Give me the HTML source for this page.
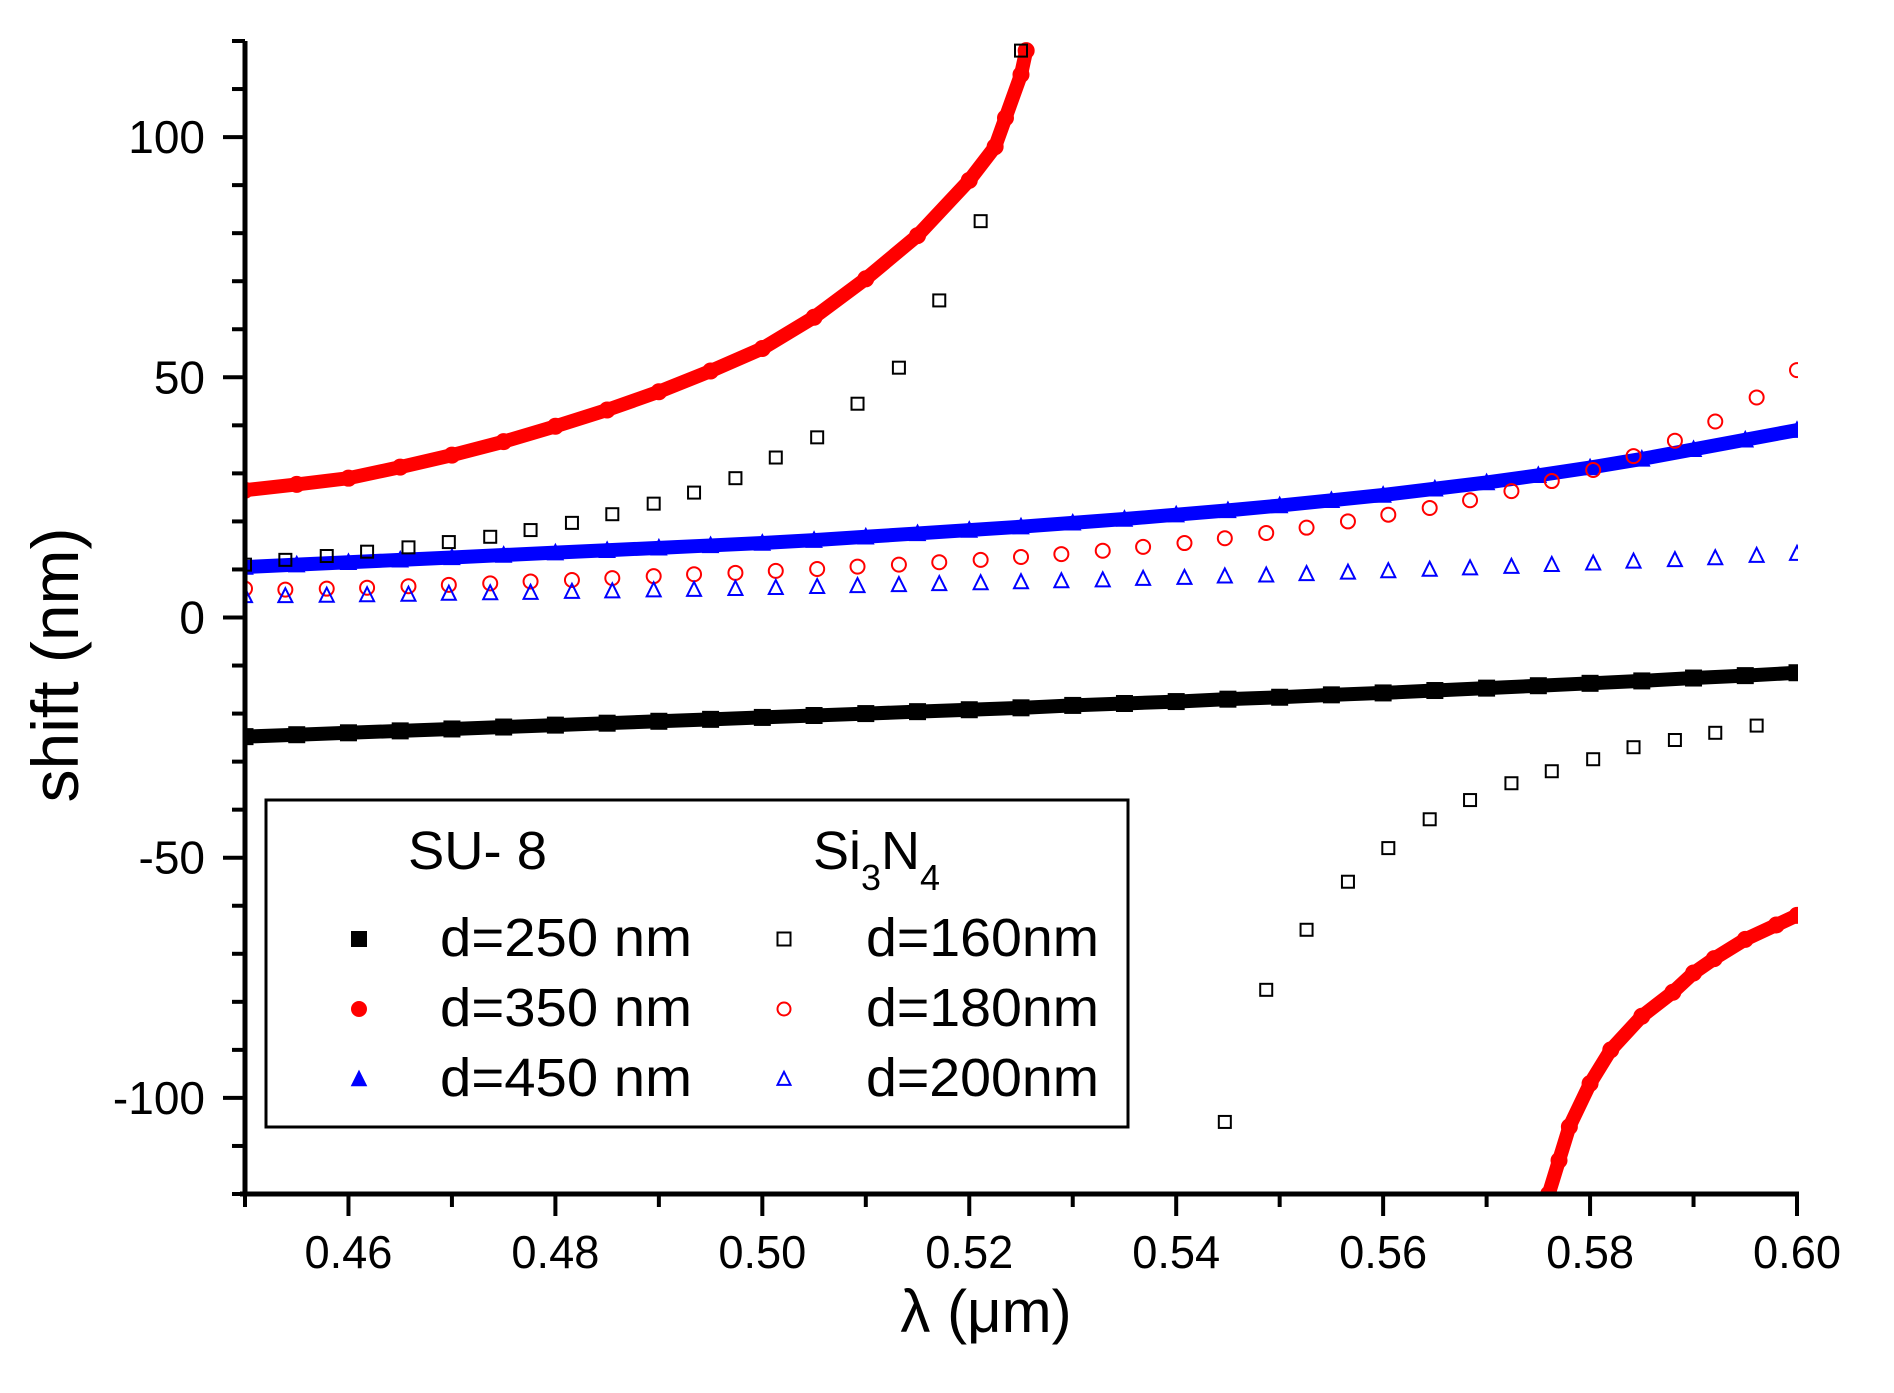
<!DOCTYPE html>
<html><head><meta charset="utf-8"><title>shift vs wavelength</title>
<style>
html,body{margin:0;padding:0;background:#fff;}
svg{display:block;font-family:"Liberation Sans",Arial,sans-serif;}
</style></head>
<body>
<svg id="chart" width="1894" height="1393" viewBox="0 0 1894 1393" xmlns="http://www.w3.org/2000/svg">
<defs><clipPath id="plotclip"><rect x="245" y="41" width="1553" height="1153"/></clipPath></defs>
<g id="ticks"></g>
<g id="series" clip-path="url(#plotclip)"></g>
<line x1="245" y1="41" x2="245" y2="1196" stroke="#000" stroke-width="5"/>
<line x1="240" y1="1194" x2="1799" y2="1194" stroke="#000" stroke-width="5"/>
<text x="55" y="665" transform="rotate(-90 55 665)" text-anchor="middle" dominant-baseline="central" font-size="66">shift (nm)</text>
<text x="986" y="1332" text-anchor="middle" font-size="60">λ (μm)</text>
<g>
<rect x="266" y="800" width="862" height="327" fill="#fff" stroke="#000" stroke-width="3"/>
<text x="408" y="869" font-size="54" textLength="139" lengthAdjust="spacingAndGlyphs">SU- 8</text>
<text x="813" y="869" font-size="54">Si<tspan font-size="36" dy="21">3</tspan><tspan dy="-21">N</tspan><tspan font-size="36" dy="21">4</tspan></text>
<g id="legendEntries"></g>
</g>
</svg>
<script>
// ---- axis domains ----
const xMin = 0.45, xMax = 0.60, yMin = -120, yMax = 120;
const xTicks = [0.46, 0.48, 0.50, 0.52, 0.54, 0.56, 0.58, 0.60];
const xTickLabels = ["0.46","0.48","0.50","0.52","0.54","0.56","0.58","0.60"];
const yTicks = [-100, -50, 0, 50, 100];
const yTickLabels = ["-100","-50","0","50","100"];

// ---- dense series (SU-8) ----
const xDense = [0.450,0.455,0.460,0.465,0.470,0.475,0.480,0.485,0.490,0.495,0.500,0.505,0.510,0.515,0.520,0.525,0.530,0.535,0.540,0.545,0.550,0.555,0.560,0.565,0.570,0.575,0.580,0.585,0.590,0.595,0.600];
const d250 = [-24.8,-24.4,-24.0,-23.6,-23.2,-22.8,-22.4,-22.0,-21.6,-21.2,-20.8,-20.4,-20.0,-19.6,-19.2,-18.8,-18.3,-17.9,-17.5,-17.0,-16.6,-16.1,-15.7,-15.2,-14.7,-14.2,-13.7,-13.2,-12.6,-12.1,-11.5];
const d450 = [10.5,11.0,11.5,12.0,12.5,13.0,13.5,14.0,14.5,15.0,15.5,16.1,16.8,17.5,18.2,18.9,19.7,20.5,21.4,22.3,23.3,24.4,25.5,26.8,28.1,29.6,31.2,33.0,35.0,37.0,39.0];
const x350a = [0.450,0.455,0.460,0.465,0.470,0.475,0.480,0.485,0.490,0.495,0.500,0.505,0.510,0.515,0.520,0.5225,0.5235,0.525,0.5255];
const d350a = [26.5,27.7,29.0,31.3,33.8,36.6,39.8,43.2,47.0,51.3,56.0,62.5,70.5,79.5,91.0,98.0,104.0,113.0,118.0];
const x350b = [0.576,0.577,0.578,0.580,0.582,0.585,0.588,0.590,0.592,0.595,0.598,0.600];
const d350b = [-120,-113,-106,-97,-90,-83,-78,-74,-71,-67,-64,-62];

// ---- sparse series (Si3N4), 39 points from 0.45 to 0.60 ----
const xSparse = [0.4500,0.4539,0.4579,0.4618,0.4658,0.4697,0.4737,0.4776,0.4816,0.4855,0.4895,0.4934,0.4974,0.5013,0.5053,0.5092,0.5132,0.5171,0.5211,0.5250,0.5289,0.5329,0.5368,0.5408,0.5447,0.5487,0.5526,0.5566,0.5605,0.5645,0.5684,0.5724,0.5763,0.5803,0.5842,0.5882,0.5921,0.5961,0.6000];
const d160 = [11,12,12.8,13.7,14.6,15.7,16.8,18.2,19.7,21.5,23.7,26,29,33.3,37.5,44.5,52,66,82.5,118,null,null,null,null,-105,-77.5,-65,-55,-48,-42,-38,-34.5,-32,-29.5,-27,-25.5,-24,-22.5,null];
const d180 = [6,5.8,6.0,6.2,6.5,6.8,7.1,7.5,7.8,8.2,8.6,9.0,9.3,9.7,10.1,10.6,11.0,11.5,12.0,12.6,13.2,13.9,14.7,15.5,16.5,17.6,18.7,20.0,21.4,22.8,24.4,26.3,28.4,30.7,33.6,36.8,40.8,45.8,51.5];
const d200 = [4.5,4.5,4.6,4.7,4.8,5.0,5.1,5.2,5.4,5.5,5.7,5.8,6.0,6.2,6.4,6.6,6.8,7.0,7.2,7.4,7.6,7.8,8.1,8.3,8.6,8.8,9.1,9.4,9.7,10.0,10.3,10.6,11.0,11.3,11.7,12.0,12.4,12.9,13.3];

const NS = "http://www.w3.org/2000/svg";
const X0 = 245, X1 = 1797, Y0 = 1194, Y1 = 41;
function sx(v){ return X0 + (v - xMin) / (xMax - xMin) * (X1 - X0); }
function sy(v){ return Y0 - (v - yMin) / (yMax - yMin) * (Y0 - Y1); }
function mk(tag, attrs, parent){
  const e = document.createElementNS(NS, tag);
  for (const k in attrs) e.setAttribute(k, attrs[k]);
  parent.appendChild(e);
  return e;
}

// ---- ticks ----
const tg = document.getElementById('ticks');
for (let i = 0; i <= 15; i++) {
  const v = xMin + i * 0.01;
  const major = (i % 2 === 1);
  const t = mk('line', {x1: sx(v), x2: sx(v), y1: Y0, y2: Y0 + (major ? 22 : 13), stroke: '#000', 'stroke-width': 4}, tg);
  
  
}
xTicks.forEach((v, i) => {
  const t = mk('text', {x: sx(v), y: 1268, 'text-anchor': 'middle', 'font-size': 46, textLength: 88, lengthAdjust: 'spacingAndGlyphs'}, tg);
  t.textContent = xTickLabels[i];
  
  
});
for (let v = -120; v <= 120; v += 10) {
  const major = (v % 50 === 0);
  const t = mk('line', {x1: X0, x2: X0 - (major ? 22 : 13), y1: sy(v), y2: sy(v), stroke: '#000', 'stroke-width': 4}, tg);
  
  
}
yTicks.forEach((v, i) => {
  const t = mk('text', {x: 205, y: sy(v), 'text-anchor': 'end', 'dominant-baseline': 'central', 'font-size': 46}, tg);
  t.textContent = yTickLabels[i];
  
  
});

// ---- markers ----
function marker(parent, type, cx, cy, size, color, filled){
  let e;
  const fill = filled ? color : 'none';
  if (type === 'square') {
    e = mk('rect', {x: cx - size/2, y: cy - size/2, width: size, height: size, fill: fill, stroke: color, 'stroke-width': filled ? 1 : 2}, parent);
  } else if (type === 'circle') {
    e = mk('circle', {cx: cx, cy: cy, r: size/2, fill: fill, stroke: color, 'stroke-width': filled ? 1 : 2}, parent);
  } else {
    const h = size;
    e = mk('polygon', {points: `${cx},${cy - h*0.55} ${cx - h/2},${cy + h*0.45} ${cx + h/2},${cy + h*0.45}`, fill: fill, stroke: color, 'stroke-width': filled ? 1 : 2}, parent);
  }
  return e;
}

const sg = document.getElementById('series');
function denseSeries(xs, ys, name, type, color, width){
  const g = mk('g', {}, sg);
  
  
  const pts = xs.map((x, i) => sx(x) + ',' + sy(ys[i])).join(' ');
  mk('polyline', {points: pts, fill: 'none', stroke: color, 'stroke-width': width, 'stroke-linejoin': 'round', 'stroke-linecap': 'round'}, g);
  xs.forEach((x, i) => {
    const m = marker(g, type, sx(x), sy(ys[i]), width + 2, color, true);
    
    
  });
}
function sparseSeries(xs, ys, name, type, color, size){
  const g = mk('g', {}, sg);
  
  
  xs.forEach((x, i) => {
    if (ys[i] === null) return;
    const m = marker(g, type, sx(x), sy(ys[i]), size, color, false);
    
    
  });
}
denseSeries(xDense, d250, 'series-d250', 'square', '#000', 14);
denseSeries(xDense, d450, 'series-d450', 'triangle', '#0000ff', 14);
denseSeries(x350a, d350a, 'series-d350-upper', 'circle', '#ff0000', 14);
denseSeries(x350b, d350b, 'series-d350-lower', 'circle', '#ff0000', 14);
sparseSeries(xSparse, d160, 'series-d160', 'square', '#000', 12);
sparseSeries(xSparse, d180, 'series-d180', 'circle', '#ff0000', 14);
sparseSeries(xSparse, d200, 'series-d200', 'triangle', '#0000ff', 14);

// ---- legend ----
const legendLabels = ["d=250 nm","d=350 nm","d=450 nm","d=160nm","d=180nm","d=200nm"];
const legendTypes = ["square","circle","triangle","square","circle","triangle"];
const legendColors = ["#000","#ff0000","#0000ff","#000","#ff0000","#0000ff"];
const legendFilled = [true,true,true,false,false,false];
const lg = document.getElementById('legendEntries');
const rowBase = [956, 1026, 1096];
legendLabels.forEach((lab, i) => {
  const col = i < 3 ? 0 : 1, row = i % 3;
  const g = mk('g', {}, lg);
  
  
  const mx = col ? 784 : 359;
  const m = marker(g, legendTypes[i], mx, rowBase[row] - 17, legendFilled[i] ? 15 : 13, legendColors[i], legendFilled[i]);
  
  
  const t = mk('text', {x: col ? 866 : 440, y: rowBase[row], 'font-size': 54, textLength: col ? 233 : 252, lengthAdjust: 'spacingAndGlyphs'}, g);
  t.textContent = lab;
  
  
});
</script>
</body></html>
